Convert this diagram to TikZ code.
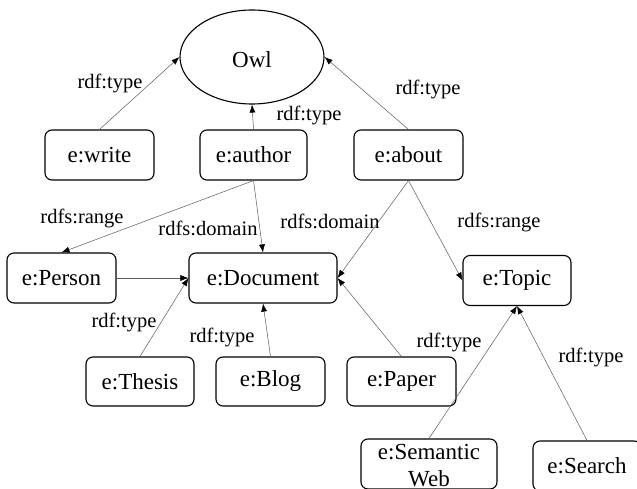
\documentclass[tikz,border=0pt]{standalone}
\usepackage{fontspec}
\setmainfont{Liberation Serif}
\usetikzlibrary{arrows.meta,shapes.geometric}
\tikzset{
  rbox/.style={draw=black, line width=1.1pt, rounded corners=7pt, minimum height=50pt, inner sep=0pt, font=\fontsize{23}{27}\selectfont},
  edge/.style={draw=black!65, line width=0.5pt, -{Latex[length=8pt,width=6pt,color=black]}},
  lab/.style={font=\fontsize{20.5}{24}\selectfont, inner sep=0pt},
}
\begin{document}
\begin{tikzpicture}[x=1pt,y=-1pt]
\useasboundingbox (0,0) rectangle (637,489);
\clip (0,0) rectangle (637,489);
\node[ellipse, draw=black, line width=1.1pt, minimum width=144pt, minimum height=94pt, inner sep=0pt, font=\fontsize{23}{27}\selectfont] (owl) at (252,57) {};
\node[font=\fontsize{23}{27}\selectfont, inner sep=0pt] (owlt) at (252,60) {Owl};
\node[rbox, minimum width=109pt] (write) at (99.5,155) {e:write};
\node[rbox, minimum width=107pt] (author) at (253.5,155) {e:author};
\node[rbox, minimum width=109pt] (about) at (408.5,155) {e:about};
\node[rbox, minimum width=109pt] (person) at (61.5,278) {e:Person};
\node[rbox, minimum width=148pt] (doc) at (263,278) {e:Document};
\node[rbox, minimum width=108pt] (topic) at (517,280.5) {e:Topic};
\node[rbox, minimum width=108pt, minimum height=49pt] (thesis) at (140,381.5) {e:Thesis};
\node[rbox, minimum width=109pt, minimum height=49pt] (blog) at (270.5,381.5) {e:Blog};
\node[rbox, minimum width=109pt, minimum height=49pt] (paper) at (401.5,381.5) {e:Paper};
\node[rbox, minimum width=136pt] (semweb) at (429,464) {};
\node[font=\fontsize{23}{27}\selectfont, align=center, inner sep=0pt, anchor=north] (semwebt) at (429,444.5) {e:Semantic\\Web};
\node[rbox, minimum width=108pt] (search) at (587,466) {e:Search};

\draw[edge] (write.north) -- (owl.west);
\draw[edge] (author.north) -- (owl.south);
\draw[edge] (about.north) -- (owl.east);
\draw[edge] (author.south) -- (person.north);
\draw[edge] (author.south) -- (doc.north);
\draw[edge] (about.south) -- (doc.east);
\draw[edge] (about.south) -- (topic.west);
\draw[edge] (person.east) -- (doc.west);
\draw[edge] (thesis.north) -- (doc.west);
\draw[edge] (blog.north) -- (doc.south);
\draw[edge] (paper.north) -- (doc.east);
\draw[edge] (semweb.north) -- (topic.south);
\draw[edge] (search.north) -- (topic.south);

\node[lab] (l1) at (110,83) {rdf:type};
\node[lab] (l2) at (309,115) {rdf:type};
\node[lab] (l3) at (428,89) {rdf:type};
\node[lab] (l4) at (82,218) {rdfs:range};
\node[lab] (l5) at (208,228) {rdfs:domain};
\node[lab] (l6) at (330,221) {rdfs:domain};
\node[lab] (l7) at (499,222) {rdfs:range};
\node[lab] (l8) at (124,322) {rdf:type};
\node[lab] (l9) at (222,337) {rdf:type};
\node[lab] (l10) at (449,342) {rdf:type};
\node[lab] (l11) at (591,357) {rdf:type};
\end{tikzpicture}
\end{document}
